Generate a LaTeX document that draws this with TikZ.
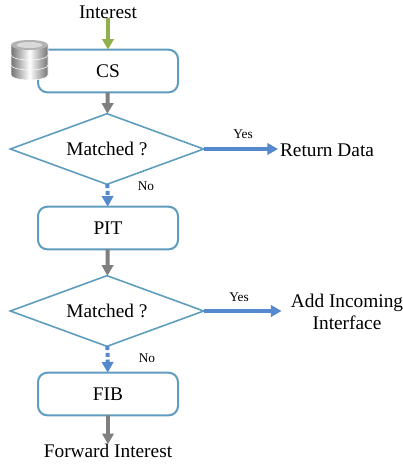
\documentclass[tikz,border=0pt]{standalone}
\usepackage{fontspec}
\setmainfont{Liberation Serif}
\usetikzlibrary{arrows.meta,shapes.geometric}
\definecolor{boxline}{HTML}{5F9DBF}
\definecolor{flowgray}{HTML}{7F7F7F}
\definecolor{flowgreen}{HTML}{8FB04C}
\definecolor{flowblue}{HTML}{5588CC}
\begin{document}
\begin{tikzpicture}[
    x=0.75pt, y=-0.75pt, font=\fontsize{14.5}{16}\selectfont,
    block/.style={draw=boxline, line width=1.5pt, rounded corners=7pt, fill=white,
      minimum width=105pt, minimum height=32pt, inner sep=0pt, outer sep=0pt},
    test/.style={diamond, aspect=2.7, draw=boxline, line width=1.2pt, fill=white,
      minimum width=145pt, minimum height=53pt, inner sep=0pt, outer sep=0pt},
    small/.style={font=\fontsize{10}{12}\selectfont, inner sep=0pt},
    plain/.style={inner sep=0pt, outer sep=0pt},
    flow/.style={line width=3pt, -{Triangle[length=8pt,width=8.5pt]}},
    disc/.style={left color=gray!90!black, right color=gray!90!black, middle color=white,
      draw=white, line width=0.4pt}]

    \useasboundingbox (0,0) rectangle (403,465);

    % vertices

    \node[plain] (in) at (108,12) {Interest};
    \node[block] (cs) at (108,71) {CS};
    \node[test] (m1) at (107,149) {Matched ?};
    \node[block] (pit) at (108,228) {PIT};
    \node[test] (m2) at (107,311) {Matched ?};
    \node[block] (fib) at (108,394) {FIB};
    \node[plain] (out) at (108,451) {Forward Interest};
    \node[plain, inner xsep=1.5pt] (ret) at (327,150) {Return Data};
    \node[plain, align=center, inner xsep=7pt] (add) at (347,312) {Add Incoming\\Interface};

    \node[small] (yes1) at (243,134) {Yes};
    \node[small] (no1) at (146,186) {No};
    \node[small] (yes2) at (239,297) {Yes};
    \node[small] (no2) at (147,358) {No};

    % edges

    \draw[flow, flowgreen] (in) to (cs);
    \draw[flow, flowgray] (cs) to (m1);
    \draw[flow, flowblue, dash pattern=on 3pt off 2pt] (m1) to (pit);
    \draw[flow, flowblue] (m1.east) to (m1.east -| ret.west);
    \draw[flow, flowgray] (pit) to (m2);
    \draw[flow, flowblue, dash pattern=on 3pt off 2pt] (m2) to (fib);
    \draw[flow, flowblue] (m2.east) to (m2.east -| add.west);
    \draw[flow, flowgray] (fib) to (out);

    % database

    \foreach \ytop/\ybot in {66/75,56/65,45/55}
      \path[disc] (11,\ytop) -- (11,\ybot)
        arc[start angle=180, end angle=0, x radius=18.5, y radius=5]
        -- (48,\ytop)
        arc[start angle=0, end angle=-180, x radius=18.5, y radius=5] -- cycle;
    \fill[gray!60] (29.5,45) ellipse[x radius=18.5, y radius=5];
    \fill[gray!30] (29.5,45) ellipse[x radius=13, y radius=3];
  \end{tikzpicture}
\end{document}
